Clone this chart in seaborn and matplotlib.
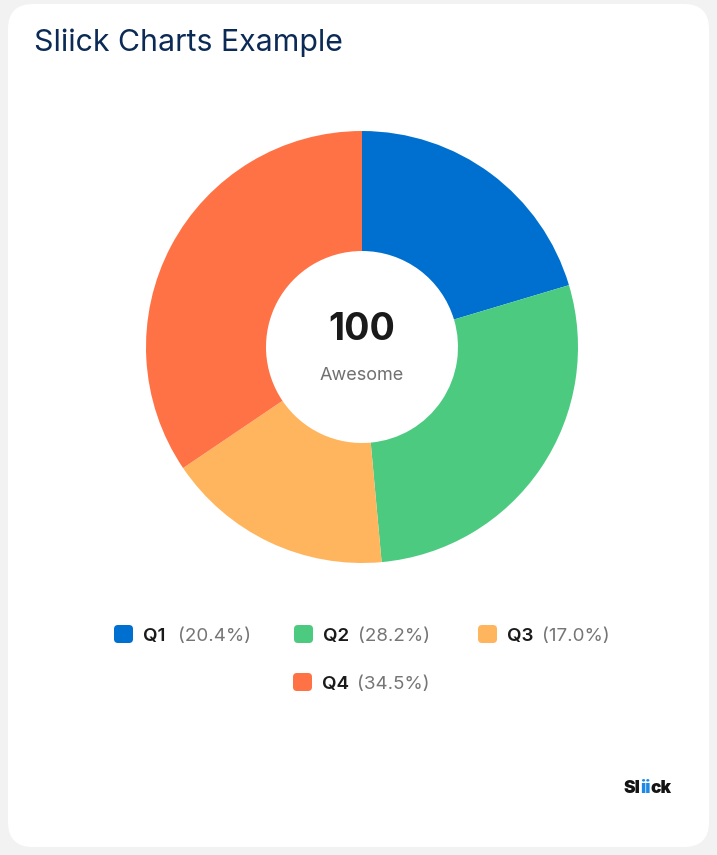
import matplotlib
matplotlib.use("Agg")
import matplotlib.pyplot as plt
import seaborn as sns
from matplotlib.patches import FancyBboxPatch

sns.set_theme(style="white")
plt.rcParams['font.family'] = ['Inter', 'DejaVu Sans']

# ---- data ----
categories = ["Q1", "Q2", "Q3", "Q4"]
values = [20.4, 28.2, 17.0, 34.5]
colors = ["#0070D0", "#4CCB80", "#FFB55E", "#FF7245"]
title = "Sliick Charts Example"
center_value = "100"
center_label = "Awesome"

W, H = 717, 855
fig = plt.figure(figsize=(W / 100, H / 100), dpi=100)
fig.patch.set_facecolor("#F2F2F2")

# background/card axes in pixel coords
bg = fig.add_axes([0, 0, 1, 1])
bg.set_xlim(0, W)
bg.set_ylim(H, 0)
bg.axis("off")
card = FancyBboxPatch((8 + 25, 4 + 25), 701 - 50, 843 - 50,
                      boxstyle="round,pad=25", fc="white", ec="none")
bg.add_patch(card)

bg.text(34, 51, title, fontsize=21.8, color="#0B2A55", va="baseline", ha="left")

# pie axes
cx, cy, R = 362, 347, 216
pax = fig.add_axes([(cx - R) / W, (H - cy - R) / H, 2 * R / W, 2 * R / H])
pax.pie(values, colors=colors, startangle=90, counterclock=False,
        radius=1, wedgeprops=dict(width=1 - 96 / 216, linewidth=0))
pax.set_xlim(-1, 1)
pax.set_ylim(-1, 1)
pax.set_aspect("equal")
pax.axis("off")

bg.text(cx, 330, center_value, fontsize=27, fontweight="bold", color="#1A1A1A",
        ha="center", va="center")
bg.text(cx, 375, center_label, fontsize=13, color="#707070",
        ha="center", va="center")

# legend
total = sum(values)
legend_pos = [(114, 641), (294, 641), (478, 641), (293, 689)]
for (lx, ly), cat, val, col in zip(legend_pos, categories, values, colors):
    sq = FancyBboxPatch((lx + 4, ly - 12), 11, 10,
                        boxstyle="round,pad=4", fc=col, ec="none")
    bg.add_patch(sq)
    bg.text(lx + 29, ly, cat, fontsize=13.5, fontweight="semibold",
            color="#1A1A1A", va="baseline", ha="left")
    bg.text(lx + 64, ly, f"({val / total * 100:.1f}%)", fontsize=13.5,
            color="#757575", va="baseline", ha="left")

# logo "Sliick" with blue "ii"
renderer = fig.canvas.get_renderer()
x = 624
for part, col in [("Sl", "#141414"), ("ii", "#1E88E5"), ("ck", "#141414")]:
    t = bg.text(x, 793, part, fontsize=12.5, fontweight="black", color=col,
                va="baseline", ha="left")
    bb = t.get_window_extent(renderer=renderer)
    x += bb.width - 0.5

fig.savefig("out.png", dpi=100, facecolor=fig.get_facecolor())
